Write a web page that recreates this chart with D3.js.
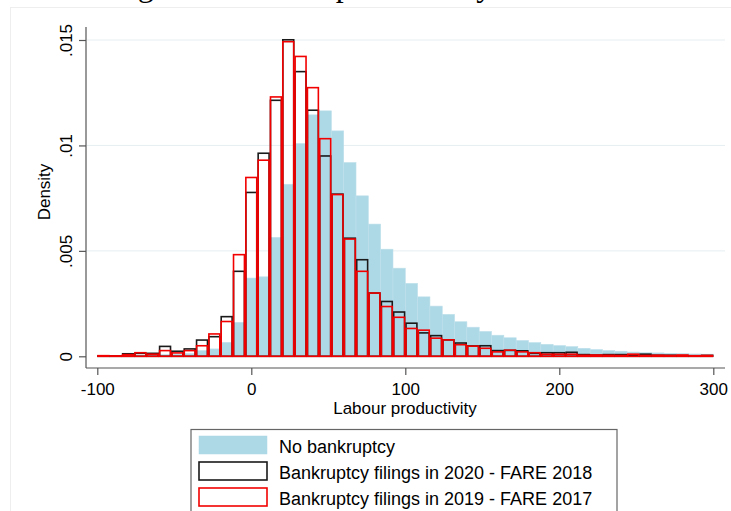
<!DOCTYPE html>
<html>
<head>
<meta charset="utf-8">
<script src="https://cdn.jsdelivr.net/npm/d3@7"></script>
<style>
  html, body { margin: 0; padding: 0; background: #ffffff; }
  svg { display: block; }
</style>
</head>
<body>
<div id="chart"></div>
<script>
// Histogram bins: 50 bins of width 8 starting at -100
const binStart = -100;
const binWidth = 8;

// Density per bin, firms with no bankruptcy
const noBankruptcy = [
  0.00002, 0.00002, 0.00003, 0.00004, 0.00005, 0.00008, 0.00010, 0.00013, 0.00027, 0.00035,
  0.00066, 0.00161, 0.00371, 0.00377, 0.00564, 0.00816, 0.01009, 0.01145, 0.01164, 0.01069,
  0.00919, 0.00761, 0.00627, 0.00508, 0.00418, 0.00346, 0.00282, 0.00238, 0.00199, 0.00164,
  0.00138, 0.00118, 0.00100, 0.00088, 0.00075, 0.00065, 0.00057, 0.00051, 0.00046, 0.00038,
  0.00032, 0.00027, 0.00024, 0.00020, 0.00017, 0.00016, 0.00014, 0.00013, 0.00011, 0.00010
];

// Density per bin, bankruptcy filings in 2020 (FARE 2018)
const filings2020 = [
  0.00002, 0.00002, 0.00012, 0.00014, 0.00014, 0.00047, 0.00024, 0.00035, 0.00077, 0.00093,
  0.00188, 0.00403, 0.00777, 0.00963, 0.01214, 0.01501, 0.01350, 0.01167, 0.00950, 0.00769,
  0.00560, 0.00458, 0.00300, 0.00260, 0.00210, 0.00157, 0.00111, 0.00098, 0.00078, 0.00063,
  0.00049, 0.00050, 0.00027, 0.00028, 0.00026, 0.00014, 0.00017, 0.00017, 0.00019, 0.00008,
  0.00006, 0.00008, 0.00008, 0.00004, 0.00010, 0.00005, 0.00005, 0.00003, 0.00002, 0.00004
];

// Density per bin, bankruptcy filings in 2019 (FARE 2017)
const filings2019 = [
  0.00003, 0.00002, 0.00008, 0.00017, 0.00010, 0.00027, 0.00016, 0.00027, 0.00050, 0.00106,
  0.00165, 0.00482, 0.00848, 0.00930, 0.01230, 0.01492, 0.01422, 0.01274, 0.01032, 0.00767,
  0.00556, 0.00403, 0.00300, 0.00236, 0.00185, 0.00132, 0.00124, 0.00086, 0.00078, 0.00055,
  0.00048, 0.00038, 0.00021, 0.00029, 0.00021, 0.00017, 0.00010, 0.00010, 0.00010, 0.00005,
  0.00006, 0.00005, 0.00004, 0.00010, 0.00004, 0.00005, 0.00004, 0.00006, 0.00003, 0.00004
];

const xTicks = [-100, 0, 100, 200, 300];
const yTicks = [0, 0.005, 0.01, 0.015];
const yTickLabels = ["0", ".005", ".01", ".015"];
const legendLabels = [
  "No bankruptcy",
  "Bankruptcy filings in 2020 - FARE 2018",
  "Bankruptcy filings in 2019 - FARE 2017"
];
const titleText = "Figure 3: Labour productivity distribution";

const W = 731, H = 511;
const font = "'Liberation Sans', Arial, sans-serif";

const svg = d3.select("#chart").append("svg")
  .attr("width", W).attr("height", H);

// faint outer frame of the graph region
svg.append("rect")
  .attr("x", 10.5).attr("y", 7.5).attr("width", 760).attr("height", 600)
  .attr("fill", "none").attr("stroke", "#eeeeee").attr("stroke-width", 1);

// figure caption, running above the top edge of the page
svg.append("text")
  .attr("x", 111).attr("y", -4)
  .attr("font-family", "'Liberation Serif', 'Times New Roman', serif")
  .attr("font-size", 32)
  .attr("fill", "#000")
  .text(titleText);

const x = d3.scaleLinear().domain([-100, 300]).range([97.3, 713.3]);
const y = d3.scaleLinear().domain([0, 0.015]).range([356.3, 40]);

const axisLeftX = 86;
const axisBottomY = 368;
const plotRight = 725;
const plotTop = 27;

// horizontal grid lines
svg.append("g").selectAll("line")
  .data(yTicks.slice(1))
  .join("line")
  .attr("x1", axisLeftX + 1).attr("x2", plotRight)
  .attr("y1", d => y(d)).attr("y2", d => y(d))
  .attr("stroke", "#e6eef1").attr("stroke-width", 1);

const bins = noBankruptcy.map((_, i) => binStart + i * binWidth);

// filled bars: no bankruptcy
svg.append("g").selectAll("rect")
  .data(noBankruptcy)
  .join("rect")
  .attr("x", (d, i) => x(bins[i]))
  .attr("width", (d, i) => x(bins[i] + binWidth) - x(bins[i]))
  .attr("y", d => y(d))
  .attr("height", d => y(0) - y(d))
  .attr("fill", "#add8e6")
  .attr("stroke", "#bfe0eb")
  .attr("stroke-width", 0.6);

// outlined bars
function outlineBars(values, color) {
  const inset = 0.7;
  svg.append("g").selectAll("rect")
    .data(values)
    .join("rect")
    .attr("x", (d, i) => x(bins[i]) + inset)
    .attr("width", (d, i) => x(bins[i] + binWidth) - x(bins[i]) - 2 * inset)
    .attr("y", d => y(d))
    .attr("height", d => y(0) - y(d))
    .attr("fill", "none")
    .attr("stroke", color)
    .attr("stroke-width", 1.6);
}
outlineBars(filings2020, "#1a1a1a");
outlineBars(filings2019, "#f20000");

// axes
const axisColor = "#555555";
const gx = svg.append("g")
  .attr("transform", `translate(0,${axisBottomY})`)
  .call(d3.axisBottom(x).tickValues(xTicks).tickSize(7).tickPadding(8).tickFormat(d3.format("d")));
gx.select(".domain").remove();
gx.append("line")
  .attr("x1", axisLeftX).attr("x2", plotRight)
  .attr("stroke", axisColor).attr("stroke-width", 1.2);
gx.selectAll(".tick line").attr("stroke", axisColor).attr("stroke-width", 1.2);
gx.selectAll(".tick text")
  .attr("font-family", font).attr("font-size", 17).attr("fill", "#000")
  .text(d => d < 0 ? "-" + Math.abs(d) : d);

const gy = svg.append("g")
  .attr("transform", `translate(${axisLeftX},0)`)
  .call(d3.axisLeft(y).tickValues(yTicks).tickSize(7).tickFormat((d, i) => yTickLabels[i]));
gy.select(".domain").remove();
gy.append("line")
  .attr("y1", plotTop).attr("y2", axisBottomY)
  .attr("stroke", axisColor).attr("stroke-width", 1.2);
gy.selectAll(".tick line").attr("stroke", axisColor).attr("stroke-width", 1.2);
gy.selectAll(".tick text")
  .attr("font-family", font).attr("font-size", 17).attr("fill", "#000")
  .attr("transform", "rotate(-90)")
  .attr("x", 0).attr("y", -14)
  .attr("dy", 0)
  .attr("text-anchor", "middle");

// axis titles
svg.append("text")
  .attr("x", 405).attr("y", 414)
  .attr("text-anchor", "middle")
  .attr("font-family", font).attr("font-size", 17).attr("fill", "#000")
  .text("Labour productivity");

svg.append("text")
  .attr("transform", "translate(50,192) rotate(-90)")
  .attr("text-anchor", "middle")
  .attr("font-family", font).attr("font-size", 17).attr("fill", "#000")
  .text("Density");

// legend
const lg = svg.append("g");
lg.append("rect")
  .attr("x", 191).attr("y", 429.5).attr("width", 426).attr("height", 120)
  .attr("fill", "#ffffff").attr("stroke", "#666666").attr("stroke-width", 1.2);

const swatchStyles = [
  { fill: "#add8e6", stroke: "#add8e6" },
  { fill: "#ffffff", stroke: "#1a1a1a" },
  { fill: "#ffffff", stroke: "#f20000" }
];
legendLabels.forEach((label, i) => {
  const top = 436 + i * 26;
  lg.append("rect")
    .attr("x", 199).attr("y", top)
    .attr("width", 68).attr("height", 18)
    .attr("fill", swatchStyles[i].fill)
    .attr("stroke", swatchStyles[i].stroke)
    .attr("stroke-width", i === 0 ? 0.5 : 1.6);
  lg.append("text")
    .attr("x", 279).attr("y", top + 16.5)
    .attr("font-family", font).attr("font-size", 18).attr("fill", "#000")
    .text(label);
});
</script>
</body>
</html>
